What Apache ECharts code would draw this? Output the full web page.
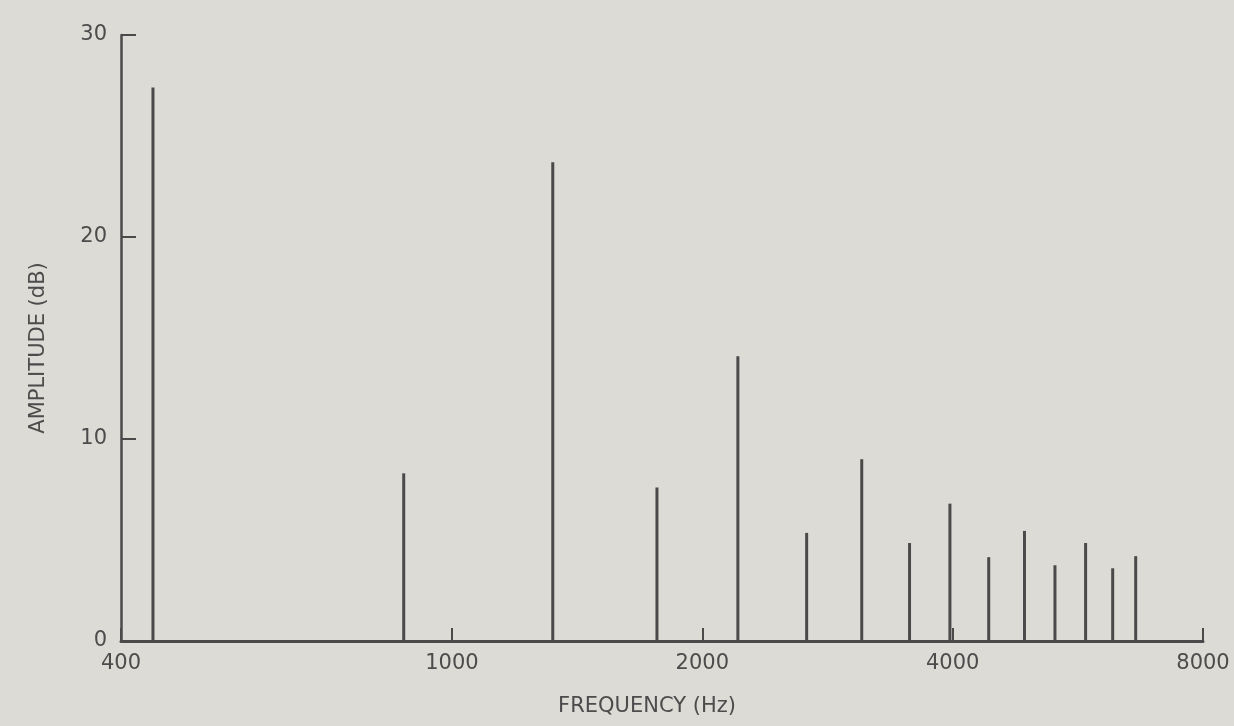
<!DOCTYPE html>
<html>
<head>
<meta charset="utf-8">
<script src="https://cdn.jsdelivr.net/npm/echarts@6/dist/echarts.min.js"></script>
<style>
  html, body { margin: 0; padding: 0; background: #dddbd5; }
  #chart { width: 1234px; height: 726px; }
</style>
</head>
<body>
<div id="chart"></div>
<script>
// Frequencies (Hz) of the spectral lines
const frequencies = [437, 875, 1322, 1764, 2207, 2670, 3110, 3550, 3970, 4420, 4880, 5310, 5780, 6230, 6640];
// Amplitudes (dB)
const amplitudes = [27.4, 8.3, 23.7, 7.6, 14.1, 5.35, 9.0, 4.85, 6.8, 4.15, 5.45, 3.75, 4.85, 3.6, 4.2];
// Axis tick labels
const xTicks = [400, 1000, 2000, 4000, 8000];
const yTicks = [0, 10, 20, 30];

const lineColor = '#4a4a4a';
const textColor = '#4c4c4c';
const font = 'DejaVu Sans';

const chart = echarts.init(document.getElementById('chart'), null, { renderer: 'canvas' });
chart.setOption({
  backgroundColor: '#dddbd5',
  animation: false,
  grid: { left: 121, right: 31, top: 35, bottom: 85 },
  xAxis: {
    type: 'log',
    logBase: 10,
    min: xTicks[0],
    max: xTicks[xTicks.length - 1],
    name: 'FREQUENCY (Hz)',
    nameLocation: 'middle',
    nameGap: 55,
    nameTextStyle: { color: textColor, fontFamily: font, fontSize: 21, padding: [0, 30, 0, 0] },
    axisLine: { show: true, lineStyle: { color: lineColor, width: 3 } },
    axisTick: { show: true, inside: true, length: 13, customValues: xTicks, lineStyle: { color: lineColor, width: 2 } },
    axisLabel: {
      customValues: xTicks, color: textColor, fontFamily: font, fontSize: 21, margin: 12,
      formatter: v => String(Math.round(v))
    },
    splitLine: { show: false },
    minorTick: { show: false }
  },
  yAxis: {
    type: 'value',
    min: 0,
    max: 30,
    interval: 10,
    name: 'AMPLITUDE (dB)',
    nameLocation: 'middle',
    nameGap: 72,
    nameRotate: 90,
    nameTextStyle: { color: textColor, fontFamily: font, fontSize: 21, padding: [0, 20, 0, 0] },
    axisLine: { show: true, lineStyle: { color: lineColor, width: 2.5 } },
    axisTick: { show: true, inside: true, length: 15, customValues: yTicks, lineStyle: { color: lineColor, width: 2 } },
    axisLabel: {
      customValues: yTicks, color: textColor, fontFamily: font, fontSize: 21, margin: 14,
      formatter: v => String(v)
    },
    splitLine: { show: false }
  },
  series: [{
    type: 'bar',
    barWidth: 3,
    itemStyle: { color: lineColor },
    data: frequencies.map((f, i) => [f, amplitudes[i]])
  }]
});
</script>
</body>
</html>
